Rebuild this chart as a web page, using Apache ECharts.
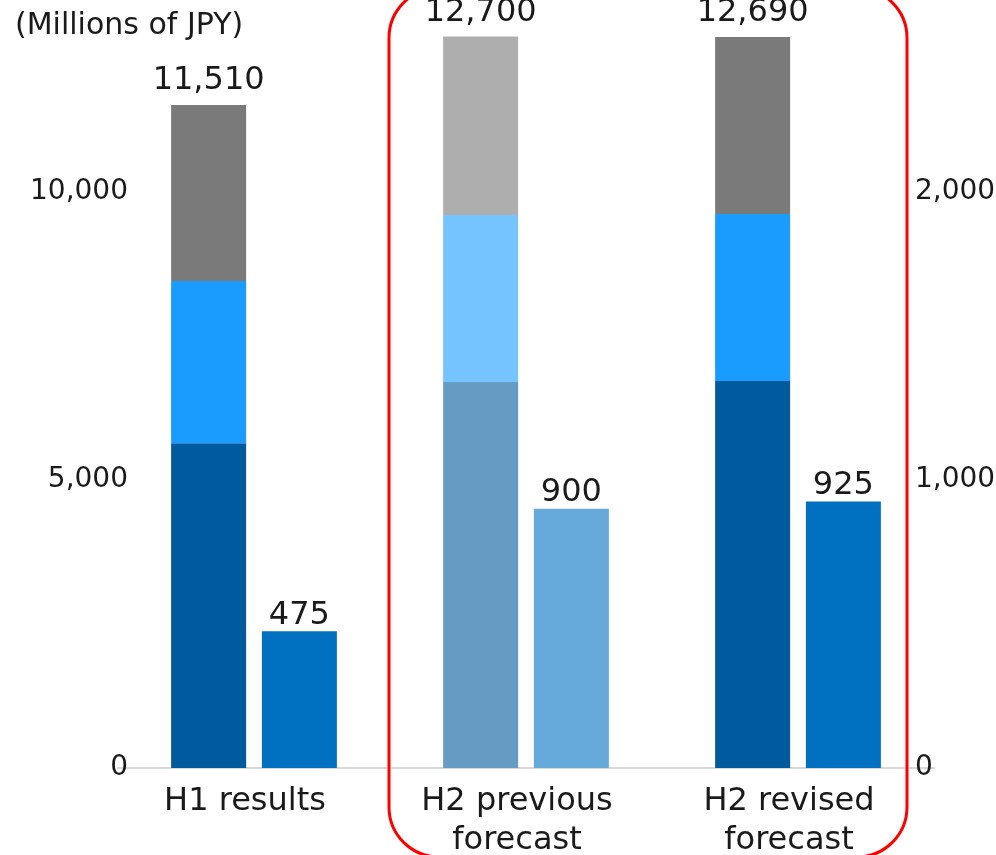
<!DOCTYPE html>
<html>
<head>
<meta charset="utf-8">
<script src="https://cdn.jsdelivr.net/npm/echarts@6/dist/echarts.min.js"></script>
<style>
  html, body { margin: 0; padding: 0; background: #fff; }
  #chart { width: 996px; height: 855px; }
</style>
</head>
<body>
<div id="chart"></div>
<script>
// data
var categories = ['H1 results', 'H2 previous\nforecast', 'H2 revised\nforecast']
var stackBottom = [5640, 6700, 6720]
var stackMiddle = [2815, 2900, 2900]
var stackTop = [3055, 3100, 3070]
var stackTotals = [11510, 12700, 12690]
var sideValues = [475, 900, 925]
var leftTicks = [0, 5000, 10000]
var rightTicks = [0, 1000, 2000]

// colours per category (previous forecast is drawn faded)
var bottomColors = ['#005A9E', '#669CC4', '#005A9E']
var middleColors = ['#1A9CFF', '#75C3FF', '#1A9CFF']
var topColors = ['#7A7A7A', '#AEAEAE', '#7A7A7A']
var sideColors = ['#0070C0', '#66AADB', '#0070C0']

var FONT = 'DejaVu Sans'
var TEXT = '#1a1a1a'

function fmt(v) {
    return Number(v).toLocaleString('en-US')
}

function colored(values, colors) {
    return values.map(function(v, i) {
        return { value: v, itemStyle: { color: colors[i] } }
    })
}

var myChart = echarts.init(document.getElementById('chart'), null, { renderer: 'canvas' })

var option = {
    backgroundColor: '#fff',
    animation: false,
    title: {
        text: '(Millions of JPY)',
        left: 10,
        top: 6,
        textStyle: { fontFamily: FONT, fontSize: 30, fontWeight: 'normal', color: TEXT }
    },
    grid: {
        left: 118,
        right: 62,
        top: 19.2,
        bottom: 87,
        containLabel: false,
        outerBoundsMode: 'none'
    },
    xAxis: {
        type: 'category',
        data: categories,
        axisLine: { show: true, lineStyle: { color: '#d9d9d9', width: 2 } },
        axisTick: { show: false },
        axisLabel: {
            margin: 14,
            padding: [0, 18, 0, 0], // labels sit a little left of the bar groups
            fontFamily: FONT,
            fontSize: 32,
            lineHeight: 39,
            color: TEXT
        }
    },
    yAxis: [
        {
            type: 'value',
            position: 'left',
            min: 0,
            max: 13000,
            interval: 5000,
            offset: -18,
            splitLine: { show: false },
            axisLine: { show: false },
            axisTick: { show: false },
            axisLabel: {
                margin: 8,
                showMaxLabel: false,
                fontFamily: FONT,
                fontSize: 28,
                color: TEXT,
                formatter: function(v) { return leftTicks.indexOf(v) >= 0 ? fmt(v) : '' }
            }
        },
        {
            type: 'value',
            position: 'right',
            min: 0,
            max: 2600,
            interval: 1000,
            offset: -27,
            splitLine: { show: false },
            axisLine: { show: false },
            axisTick: { show: false },
            axisLabel: {
                margin: 8,
                showMaxLabel: false,
                fontFamily: FONT,
                fontSize: 28,
                color: TEXT,
                formatter: function(v) { return rightTicks.indexOf(v) >= 0 ? fmt(v) : '' }
            }
        }
    ],
    series: [
        {
            type: 'bar',
            stack: 'total',
            yAxisIndex: 0,
            barWidth: 75,
            barGap: '21%',
            data: colored(stackBottom, bottomColors)
        },
        {
            type: 'bar',
            stack: 'total',
            yAxisIndex: 0,
            barWidth: 75,
            data: colored(stackMiddle, middleColors)
        },
        {
            type: 'bar',
            stack: 'total',
            yAxisIndex: 0,
            barWidth: 75,
            data: colored(stackTop, topColors),
            label: {
                show: true,
                position: 'top',
                distance: 8,
                fontFamily: FONT,
                fontSize: 32,
                color: TEXT,
                formatter: function(p) { return fmt(stackTotals[p.dataIndex]) }
            }
        },
        {
            type: 'bar',
            yAxisIndex: 1,
            barWidth: 75,
            barGap: '21%',
            data: colored(sideValues, sideColors),
            label: {
                show: true,
                position: 'top',
                distance: 0,
                fontFamily: FONT,
                fontSize: 32,
                color: TEXT,
                formatter: function(p) { return fmt(p.value) }
            }
        }
    ],
    // red rounded frame around the H2 forecasts
    graphic: [
        {
            type: 'rect',
            shape: { x: 389, y: -12, width: 518, height: 869, r: 50 },
            style: { fill: 'none', stroke: '#ff0000', lineWidth: 3 },
            z: 100
        }
    ]
}

myChart.setOption(option)
</script>
</body>
</html>
